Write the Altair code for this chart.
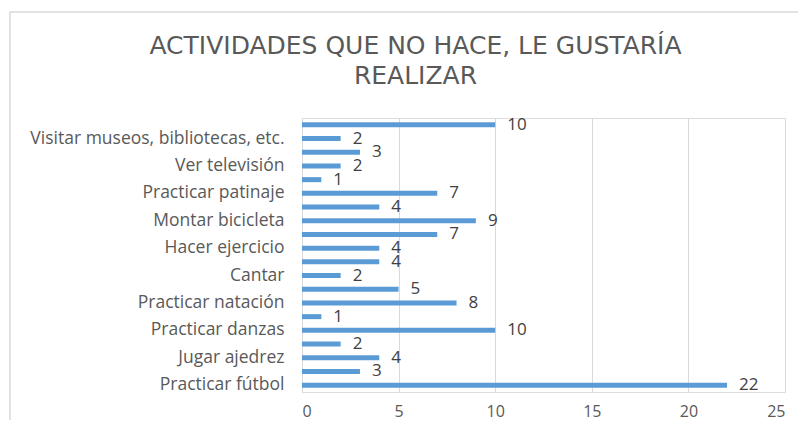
import altair as alt
import pandas as pd

# Categories listed top to bottom as displayed; placeholder rows carry no visible label
categories = [
    "Actividad 20", "Visitar museos, bibliotecas, etc.", "Actividad 18",
    "Ver televisión", "Actividad 16", "Practicar patinaje", "Actividad 14",
    "Montar bicicleta", "Actividad 12", "Hacer ejercicio", "Actividad 10",
    "Cantar", "Actividad 8", "Practicar natación", "Actividad 6",
    "Practicar danzas", "Actividad 4", "Jugar ajedrez", "Actividad 2",
    "Practicar fútbol",
]
values = [10, 2, 3, 2, 1, 7, 4, 9, 7, 4, 4, 2, 5, 8, 1, 10, 2, 4, 3, 22]
shown_labels = [
    "Visitar museos, bibliotecas, etc.", "Ver televisión", "Practicar patinaje",
    "Montar bicicleta", "Hacer ejercicio", "Cantar", "Practicar natación",
    "Practicar danzas", "Jugar ajedrez", "Practicar fútbol",
]
x_ticks = [0, 5, 10, 15, 20, 25]
title_lines = ["ACTIVIDADES QUE NO HACE, LE GUSTARÍA", "REALIZAR"]

df = pd.DataFrame({"cat": categories, "val": values})

label_list = ",".join("'" + s + "'" for s in shown_labels)
label_expr = f"indexof([{label_list}], datum.value) >= 0 ? datum.value : ''"

FONT = "Open Sans"
W, H = 483, 274
PAD_L, PAD_T = 294, 110
PAD_R = 790 - PAD_L - W
PAD_B = 412 - PAD_T - H

y_enc = alt.Y(
    "cat:N",
    sort=categories,
    scale=alt.Scale(paddingInner=0, paddingOuter=0),
    axis=alt.Axis(
        title=None, labelExpr=label_expr, ticks=False, domain=True,
        domainColor="#D9D9D9", labelPadding=18, labelFontSize=17.5,
        labelColor="#595959", labelFont=FONT, grid=False, labelLimit=0,
    ),
)
x_enc = alt.X(
    "val:Q",
    scale=alt.Scale(domain=[0, 25], nice=False),
    axis=alt.Axis(
        title=None, values=x_ticks, grid=True, gridColor="#D9D9D9",
        domain=False, ticks=False, labelPadding=11, labelFontSize=16,
        labelColor="#595959", labelFont=FONT,
    ),
)

border = alt.Chart(pd.DataFrame({"k": [0]})).mark_rect(
    fill=None, stroke="#D9D9D9", strokeWidth=1.5, clip=False
).encode(
    x=alt.value(-(PAD_L - 2)), x2=alt.value(W + PAD_R + 10),
    y=alt.value(-(PAD_T - 4)), y2=alt.value(H + PAD_B + 10),
)

bars = alt.Chart(df).mark_bar(color="#5B9BD5", size=5).encode(y=y_enc, x=x_enc)
labels = alt.Chart(df).mark_text(
    align="left", baseline="middle", dx=12, fontSize=17, color="#404040", font=FONT
).encode(y=alt.Y("cat:N", sort=categories), x="val:Q", text="val:Q")

chart = alt.layer(border, bars, labels).properties(
    width=W, height=H,
    padding={"left": PAD_L, "top": PAD_T, "right": PAD_R, "bottom": PAD_B},
    autosize=alt.AutoSizeParams(type="none"),
    title=alt.TitleParams(
        text=title_lines, anchor="middle", dx=-128, dy=106, fontSize=25,
        font="DejaVu Sans", fontWeight="normal", color="#595959", lineHeight=30,
        offset=28,
    ),
).configure_view(stroke=None).configure(background="white")

chart.save("out.html", embed_options={"renderer": "svg", "actions": False})
